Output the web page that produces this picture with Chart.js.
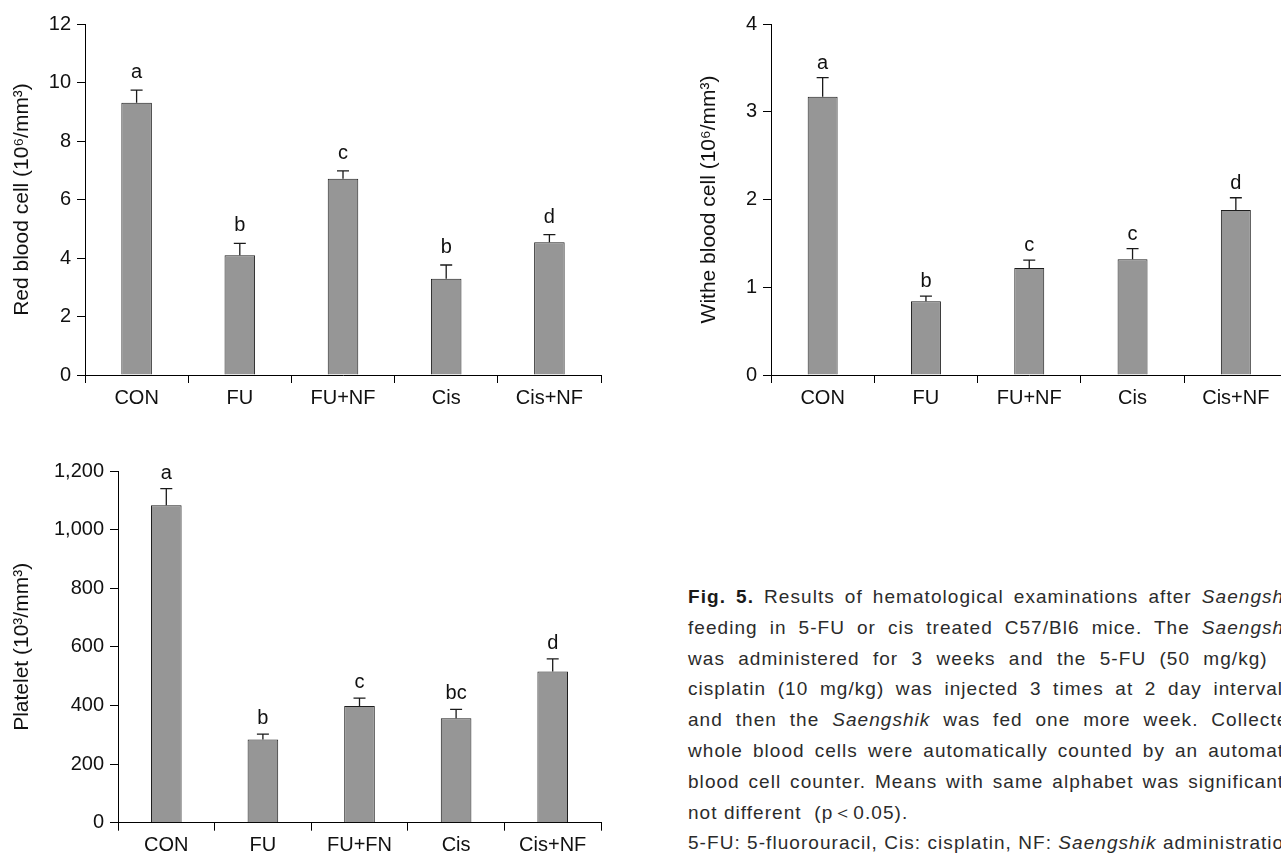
<!DOCTYPE html>
<html>
<head>
<meta charset="utf-8">
<script src="https://cdn.jsdelivr.net/npm/chart.js@4.4.0/dist/chart.umd.min.js"></script>
<style>
html,body{margin:0;padding:0;background:#fff;overflow:hidden;width:1281px;height:854px;}
canvas{position:absolute;}
#cap{position:absolute;left:688px;top:582px;width:612px;font-family:"Liberation Sans",Arial,sans-serif;font-size:19px;letter-spacing:1.05px;line-height:30.8px;color:#2b2b2b;}
#cap .j{text-align:justify;text-align-last:justify;}
#cap .l{text-align:left;white-space:nowrap;}
#cap b{color:#1a1a1a;}
</style>
</head>
<body>
<canvas id="rbc" width="640" height="420" style="left:0;top:0;"></canvas>
<canvas id="wbc" width="660" height="420" style="left:640px;top:0;"></canvas>
<canvas id="plt" width="640" height="424" style="left:0;top:430px;"></canvas>
<div id="cap">
<div class="j"><b>Fig. 5.</b> Results of hematological examinations after <i>Saengshik</i></div>
<div class="j">feeding in 5-FU or cis treated C57/Bl6 mice. The <i>Saengshik</i></div>
<div class="j">was administered for 3 weeks and the 5-FU (50 mg/kg) or</div>
<div class="j">cisplatin (10 mg/kg) was injected 3 times at 2 day intervals,</div>
<div class="j">and then the <i>Saengshik</i> was fed one more week. Collected</div>
<div class="j">whole blood cells were automatically counted by an automatic</div>
<div class="j">blood cell counter. Means with same alphabet was significantly</div>
<div class="l">not different &nbsp;(p＜0.05).</div>
<div class="l">5-FU: 5-fluorouracil, Cis: cisplatin, NF: <i>Saengshik</i> administration.</div>
</div>
<script>
const categories = ['CON', 'FU', 'FU+NF', 'Cis', 'Cis+NF'];
const plateletCategories = ['CON', 'FU', 'FU+FN', 'Cis', 'Cis+NF'];

const rbcMeans = [9.31, 4.09, 6.71, 3.29, 4.54];
const rbcErrors = [0.43, 0.41, 0.27, 0.47, 0.26];
const rbcLetters = ['a', 'b', 'c', 'b', 'd'];

const wbcMeans = [3.17, 0.84, 1.22, 1.32, 1.88];
const wbcErrors = [0.22, 0.06, 0.09, 0.12, 0.14];
const wbcLetters = ['a', 'b', 'c', 'c', 'd'];

const pltMeans = [1083, 284, 398, 356, 516];
const pltErrors = [57, 18, 27, 31, 43];
const pltLetters = ['a', 'b', 'c', 'bc', 'd'];

const rbcAxis = {max: 12, step: 2, title: 'Red blood cell (10⁶/mm³)'};
const wbcAxis = {max: 4, step: 1, title: 'Withe blood cell (10⁶/mm³)'};
const pltAxis = {max: 1200, step: 200, title: 'Platelet (10³/mm³)'};

const FAMILY = '"Liberation Sans", Arial, sans-serif';

const errorLetterPlugin = {
  id: 'errLetters',
  afterDatasetsDraw(chart, args, opts) {
    const ctx = chart.ctx;
    const meta = chart.getDatasetMeta(0);
    const ys = chart.scales.y;
    meta.data.forEach((bar, i) => {
      const top = ys.getPixelForValue(opts.means[i] + opts.errors[i]);
      const x = bar.x;
      ctx.save();
      ctx.strokeStyle = '#1a1a1a';
      ctx.lineWidth = 1.3;
      ctx.beginPath();
      ctx.moveTo(x, bar.y);
      ctx.lineTo(x, top);
      ctx.moveTo(x - 6, top);
      ctx.lineTo(x + 6, top);
      ctx.stroke();
      ctx.fillStyle = '#111';
      ctx.font = '20px ' + FAMILY;
      ctx.textAlign = 'center';
      ctx.textBaseline = 'alphabetic';
      ctx.fillText(opts.letters[i], x, top - opts.gap);
      ctx.restore();
    });
  }
};

function makeChart(id, cats, means, errs, letters, axis, L) {
  return new Chart(document.getElementById(id), {
    type: 'bar',
    data: {
      labels: cats,
      datasets: [{
        data: means,
        backgroundColor: '#969696',
        borderColor: '#1e1e1e',
        borderWidth: 1,
        categoryPercentage: 1,
        barPercentage: L.barPct
      }]
    },
    options: {
      responsive: false,
      animation: false,
      devicePixelRatio: 1,
      layout: {padding: {left: 0, top: L.padTop, right: L.padRight, bottom: 0}},
      plugins: {
        legend: {display: false},
        tooltip: {enabled: false},
        errLetters: {means: means, errors: errs, letters: letters, gap: L.gap}
      },
      scales: {
        x: {
          grid: {offset: true, drawOnChartArea: false, color: '#000', tickLength: 8, lineWidth: 1},
          border: {color: '#000', width: 1},
          ticks: {color: '#111', font: {family: FAMILY, size: 20}, padding: 3, maxRotation: 0, autoSkip: false},
          afterFit(s) { s.height = L.xH; }
        },
        y: {
          min: 0,
          max: axis.max,
          ticks: {stepSize: axis.step, color: '#111', font: {family: FAMILY, size: 20}, padding: 6,
                  callback: v => Number(v).toLocaleString('en-US')},
          grid: {drawOnChartArea: false, color: '#000', tickLength: 8, lineWidth: 1},
          border: {color: '#000', width: 1},
          title: {display: true, text: axis.title, color: '#111', font: {family: FAMILY, size: 21},
                  padding: {top: L.titlePad, bottom: 0}},
          afterFit(s) { s.width = L.yW; }
        }
      }
    },
    plugins: [errorLetterPlugin]
  });
}

makeChart('rbc', categories, rbcMeans, rbcErrors, rbcLetters, rbcAxis,
  {barPct: 0.296, padTop: 24, padRight: 39, xH: 45, yW: 85, titlePad: 10, gap: 12});
makeChart('wbc', categories, wbcMeans, wbcErrors, wbcLetters, wbcAxis,
  {barPct: 0.29, padTop: 24, padRight: 12.5, xH: 45, yW: 131, titlePad: 57, gap: 9});
makeChart('plt', plateletCategories, pltMeans, pltErrors, pltLetters, pltAxis,
  {barPct: 0.317, padTop: 41, padRight: 39, xH: 31.3, yW: 118, titlePad: 10, gap: 10});
</script>
</body>
</html>
